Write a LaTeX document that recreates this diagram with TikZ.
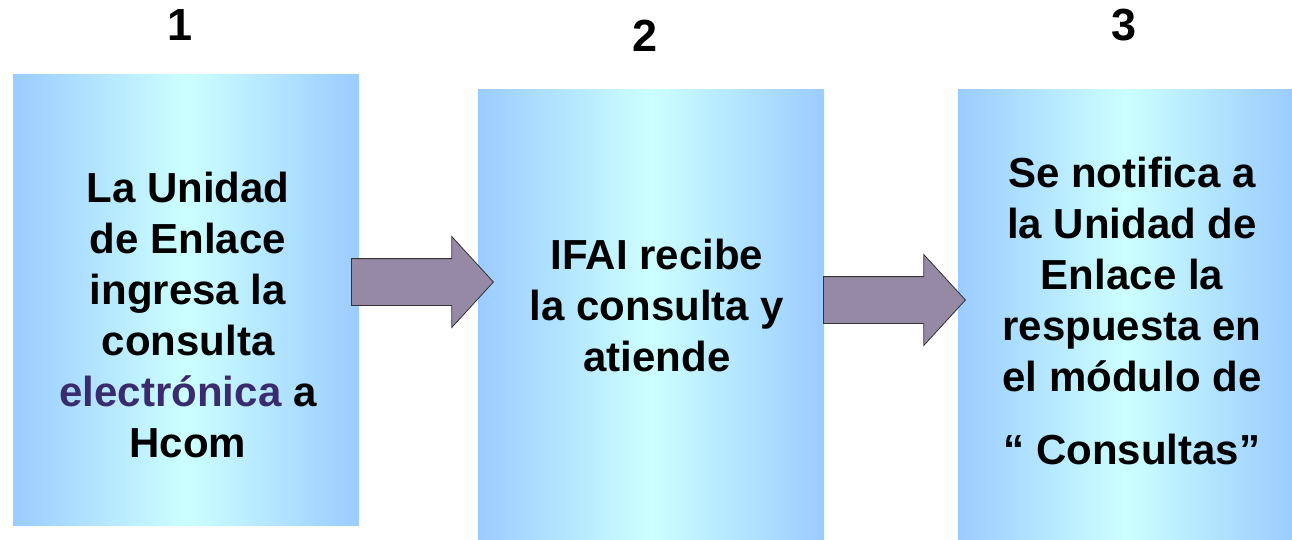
\documentclass[tikz,border=0pt]{standalone}
\usepackage{fontspec}
\setmainfont{Liberation Sans}
\usetikzlibrary{shapes.arrows}
\definecolor{cajaazul}{RGB}{155,204,255}
\definecolor{cajacian}{RGB}{204,255,255}
\definecolor{flechagris}{RGB}{150,137,165}
\definecolor{morado}{RGB}{58,42,110}
\begin{document}
\begin{tikzpicture}[x=1pt,y=-1pt,
  caja/.style={rectangle,draw=none,left color=cajaazul,right color=cajaazul,middle color=cajacian,inner sep=0pt},
  texto/.style={align=center,font=\fontsize{42}{51}\selectfont\bfseries},
  numero/.style={font=\fontsize{45}{50}\selectfont\bfseries},
  flecha/.style={single arrow,draw=black!80,fill=flechagris,line width=0.8pt,text height=23pt,text depth=23pt,minimum width=90pt,minimum height=142pt,single arrow head extend=22pt,single arrow tip angle=95,inner sep=0pt}]
  \useasboundingbox (0,0) rectangle (1292,539);

  \node[caja,minimum width=346pt,minimum height=451pt] (b1) at (186,299.5) {};
  \node[caja,minimum width=346pt,minimum height=450pt] (b2) at (651,314) {};
  \node[caja,minimum width=334pt,minimum height=450pt] (b3) at (1125,314) {};

  \node[numero] (n1) at (180,25) {1};
  \node[numero] (n2) at (645,36) {2};
  \node[numero] (n3) at (1124,25) {3};

  \node[texto] (t1) at (188,315) {La Unidad\\de Enlace\\ingresa la\\consulta\\{\color{morado}electrónica} a\\Hcom};
  \node[texto] (t2) at (657,305) {IFAI recibe\\la consulta y\\atiende};
  \node[texto] (t3) at (1132,311) {Se notifica a\\la Unidad de\\Enlace la\\respuesta en\\el módulo de\\[22pt]“ Consultas”};

  \node[flecha,anchor=west] (f1) at (351,282) {};
  \node[flecha,anchor=west] (f2) at (823,300) {};
\end{tikzpicture}
\end{document}
